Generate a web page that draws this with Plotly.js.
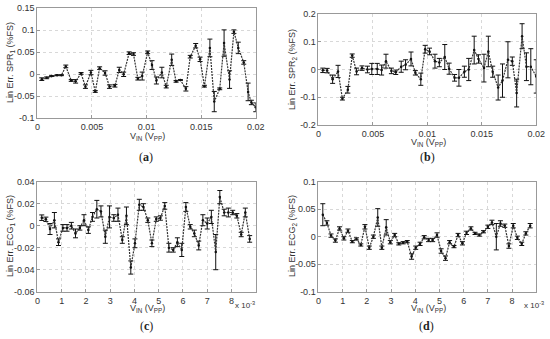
<!DOCTYPE html>
<html><head><meta charset="utf-8">
<script src="https://cdn.plot.ly/plotly-3.0.1.min.js"></script>
<style>html,body{margin:0;padding:0;background:#fff}#chart{width:550px;height:339px}</style>
</head><body><div id="chart"></div>
<script>
// (a) SPR1
const xA = [0.0004,0.00085,0.0013,0.0018,0.0022,0.0026,0.0031,0.0035,0.004,0.0044,0.0049,0.0053,0.0057,0.0062,0.0066,0.0071,0.0075,0.0079,0.0084,0.0088,0.0092,0.0096,0.0101,0.0105,0.0109,0.0114,0.0118,0.0123,0.0127,0.0131,0.0136,0.014,0.0145,0.0149,0.0153,0.0158,0.0162,0.0167,0.0171,0.0176,0.018,0.0184,0.0189,0.0193,0.0196,0.02];
const yA = [-0.011,-0.008,-0.004,-0.002,-0.002,0.018,-0.014,-0.016,0.002,-0.028,0.004,-0.039,0.014,0.003,-0.028,-0.026,0.01,0.0,0.048,0.046,-0.01,-0.004,0.05,0.021,-0.014,0.004,-0.028,0.033,-0.016,-0.013,-0.033,0.04,0.065,0.034,-0.027,0.06,-0.062,-0.033,0.071,-0.012,0.097,0.06,0.027,-0.04,-0.064,-0.075];
const eA = [0.003,0.002,0.001,0.001,0.001,0.003,0.002,0.004,0.002,0.004,0.005,0.002,0.003,0.005,0.004,0.003,0.006,0.005,0.003,0.003,0.003,0.009,0.003,0.01,0.008,0.012,0.003,0.013,0.002,0.001,0.005,0.003,0.005,0.005,0.002,0.02,0.023,0.002,0.03,0.02,0.004,0.013,0.004,0.02,0.005,0.01];
// (b) SPR2
const xB = [0.0004,0.0008,0.0013,0.0018,0.0022,0.0027,0.0031,0.0035,0.004,0.0045,0.0049,0.0054,0.0058,0.0062,0.0067,0.0071,0.0076,0.008,0.0085,0.0089,0.0094,0.0098,0.0102,0.0107,0.0111,0.0116,0.012,0.0125,0.0129,0.0134,0.0138,0.0143,0.0147,0.0152,0.0156,0.016,0.0165,0.0169,0.0174,0.0178,0.0182,0.0187,0.0191,0.0195,0.02];
const yB = [-0.003,-0.004,-0.035,-0.007,-0.105,-0.073,0.05,-0.007,0.005,0.0,0.002,0.002,-0.002,0.03,-0.005,-0.01,0.01,0.017,0.038,-0.012,-0.035,0.073,0.065,0.03,0.025,0.045,0.003,-0.03,-0.03,-0.008,0.0,0.07,0.038,0.005,0.065,-0.008,-0.065,-0.04,0.035,0.03,-0.085,0.12,0.01,0.01,-0.025];
const eB = [0.008,0.008,0.015,0.022,0.005,0.012,0.006,0.012,0.008,0.012,0.02,0.02,0.018,0.025,0.01,0.008,0.02,0.018,0.025,0.008,0.022,0.014,0.012,0.025,0.015,0.045,0.02,0.012,0.03,0.02,0.04,0.05,0.015,0.05,0.055,0.02,0.045,0.06,0.065,0.015,0.05,0.045,0.05,0.065,0.06];
// (c) ECG1
const xC = [0.00018,0.00035,0.00052,0.0007,0.00087,0.00105,0.00122,0.0014,0.00157,0.00175,0.00192,0.0021,0.00227,0.00245,0.00262,0.0028,0.00297,0.00315,0.00332,0.0035,0.00367,0.00385,0.00402,0.0042,0.00437,0.00455,0.00472,0.0049,0.00507,0.00525,0.00542,0.0056,0.00577,0.00595,0.00612,0.0063,0.00647,0.00665,0.00682,0.007,0.00717,0.00735,0.00752,0.0077,0.00787,0.00805,0.00822,0.0084,0.00857,0.00875];
const yC = [0.0073,0.0058,-0.003,0.005,-0.015,-0.002,-0.002,0.0,-0.007,-0.002,0.005,-0.004,0.008,0.015,0.013,-0.01,0.008,0.007,0.01,-0.013,0.009,-0.038,-0.016,0.019,0.017,0.005,-0.016,0.006,0.007,0.018,-0.02,-0.022,-0.015,-0.022,0.017,-0.001,-0.007,-0.018,0.005,0.002,0.008,-0.024,0.026,0.012,0.012,0.012,0.009,-0.008,0.012,-0.012];
const eC = [0.0025,0.002,0.005,0.007,0.003,0.003,0.003,0.003,0.004,0.002,0.005,0.003,0.004,0.008,0.005,0.006,0.01,0.003,0.006,0.003,0.008,0.006,0.004,0.005,0.003,0.002,0.003,0.002,0.002,0.003,0.004,0.002,0.004,0.006,0.004,0.002,0.003,0.004,0.005,0.005,0.006,0.016,0.006,0.003,0.004,0.002,0.002,0.002,0.004,0.003];
// (d) ECG2
const xD = [0.00018,0.00035,0.00052,0.0007,0.00087,0.00105,0.00122,0.0014,0.00157,0.00175,0.00192,0.0021,0.00227,0.00245,0.00262,0.0028,0.00297,0.00315,0.00332,0.0035,0.00367,0.00385,0.00402,0.0042,0.00437,0.00455,0.00472,0.0049,0.00507,0.00525,0.00542,0.0056,0.00577,0.00595,0.00612,0.0063,0.00647,0.00665,0.00682,0.007,0.00717,0.00735,0.00752,0.0077,0.00787,0.00805,0.00822,0.0084,0.00857,0.00875];
const yD = [0.04,0.025,0.002,-0.007,0.015,-0.003,0.011,-0.009,-0.004,-0.015,0.018,-0.02,0.0,0.035,-0.02,0.017,-0.01,0.003,-0.013,-0.011,-0.009,-0.036,-0.02,-0.013,-0.001,-0.006,-0.006,0.003,-0.026,-0.039,-0.01,-0.018,0.003,-0.012,0.007,0.015,0.006,0.003,0.009,0.018,0.026,0.0,0.024,0.02,-0.017,0.02,-0.002,-0.013,0.006,0.02];
const eD = [0.02,0.004,0.003,0.003,0.003,0.003,0.003,0.002,0.002,0.002,0.004,0.003,0.003,0.016,0.003,0.014,0.003,0.003,0.002,0.002,0.002,0.005,0.003,0.003,0.003,0.003,0.003,0.004,0.004,0.004,0.003,0.002,0.003,0.003,0.003,0.003,0.002,0.002,0.002,0.003,0.004,0.024,0.005,0.003,0.004,0.004,0.003,0.003,0.003,0.004];

// tick labels
const xTickA = [0,0.005,0.01,0.015,0.02], xTickAText = ['0','0.005','0.01','0.015','0.02'];
const xTickC = [0,0.001,0.002,0.003,0.004,0.005,0.006,0.007,0.008], xTickCText = ['0','1','2','3','4','5','6','7','8'];
const yTickA = [-0.1,-0.05,0,0.05,0.1,0.15], yTickAText = ['-0.1','-0.05','0','0.05','0.1','0.15'];
const yTickB = [-0.2,-0.1,0,0.1,0.2], yTickBText = ['-0.2','-0.1','0','0.1','0.2'];
const yTickC = [-0.06,-0.04,-0.02,0,0.02,0.04], yTickCText = ['-0.06','-0.04','-0.02','0','0.02','0.04'];
const yTickD = [-0.1,-0.05,0,0.05,0.1], yTickDText = ['-0.1','-0.05','0','0.05','0.1'];

function tr(x,y,e,xa,ya){
  return {x:x,y:y,xaxis:xa,yaxis:ya,type:'scatter',mode:'lines+markers',
    line:{color:'#333',width:1.2,dash:'2px,1px'},marker:{size:2.5,color:'#111'},
    error_y:{type:'data',array:e,visible:true,color:'#111',thickness:1,width:2.5},
    showlegend:false,hoverinfo:'skip'};
}
const data=[tr(xA,yA,eA,'x','y'),tr(xB,yB,eB,'x2','y2'),tr(xC,yC,eC,'x3','y3'),tr(xD,yD,eD,'x4','y4')];

const tf={family:'Liberation Sans, Arial, sans-serif',size:9,color:'#333'};
function ax(dom,range,tv,tt,anchor){
  return {domain:dom,range:range,tickvals:tv,ticktext:tt,anchor:anchor,showline:true,mirror:true,
    linecolor:'#999',linewidth:1,showgrid:true,gridcolor:'#d8d8d8',griddash:'dot',gridwidth:1,
    zeroline:false,ticks:'inside',ticklen:3,tickcolor:'#999',tickfont:tf,ticklabelstandoff:0};
}
const L1=[0.068,0.465], L2=[0.579,0.975];
const T1=[0.651,0.9755], T2=[0.6313,0.9587], B=[0.1395,0.464];
const layout={width:550,height:339,margin:{l:0,r:0,t:0,b:0},paper_bgcolor:'#fff',plot_bgcolor:'#fff',
  xaxis:ax(L1,[0,0.02],xTickA,xTickAText,'y'),
  yaxis:ax(T1,[-0.1,0.15],yTickA,yTickAText,'x'),
  xaxis2:ax(L2,[0,0.02],xTickA,xTickAText,'y2'),
  yaxis2:ax(T2,[-0.2,0.2],yTickB,yTickBText,'x2'),
  xaxis3:ax(L1,[0,0.009],xTickC,xTickCText,'y3'),
  yaxis3:ax(B,[-0.06,0.04],yTickC,yTickCText,'x3'),
  xaxis4:ax(L2,[0,0.009],xTickC,xTickCText,'y4'),
  yaxis4:ax(B,[-0.1,0.1],yTickD,yTickDText,'x4'),
  annotations:[]};
const A=layout.annotations;
function txt(t,x,y,o){A.push(Object.assign({text:t,x:x,y:y,xref:'paper',yref:'paper',showarrow:false,font:tf,xanchor:'center',yanchor:'middle'},o||{}));}
const px=v=>v/550, py=v=>1-v/339;
const xt='V<sub>IN</sub> (V<sub>PP</sub>)';
txt(xt,px(147),py(136.5));
txt(xt,px(428),py(142));
txt(xt,px(147),py(308));
txt(xt,px(428),py(308));
txt('Lin Err. SPR<sub>1</sub> (%FS)',px(10),py(63),{textangle:-90});
txt('Lin Err. SPR<sub>2</sub> (%FS)',px(292),py(70),{textangle:-90});
txt('Lin Err. ECG<sub>1</sub> (%FS)',px(10),py(236),{textangle:-90});
txt('Lin Err. ECG<sub>2</sub> (%FS)',px(292),py(236),{textangle:-90});
txt('x 10<sup>-3</sup>',px(245),py(305),{font:{family:tf.family,size:8,color:'#333'}});
txt('x 10<sup>-3</sup>',px(534),py(305),{font:{family:tf.family,size:8,color:'#333'}});
const sf={family:'Liberation Serif, Times New Roman, serif',size:12,color:'#222'};
txt('(<b>a</b>)',px(146),py(157),{font:sf});
txt('(<b>b</b>)',px(427),py(157),{font:sf});
txt('(<b>c</b>)',px(146),py(326),{font:sf});
txt('(<b>d</b>)',px(426),py(326),{font:sf});
Plotly.newPlot('chart',data,layout,{staticPlot:true});
</script></body></html>
